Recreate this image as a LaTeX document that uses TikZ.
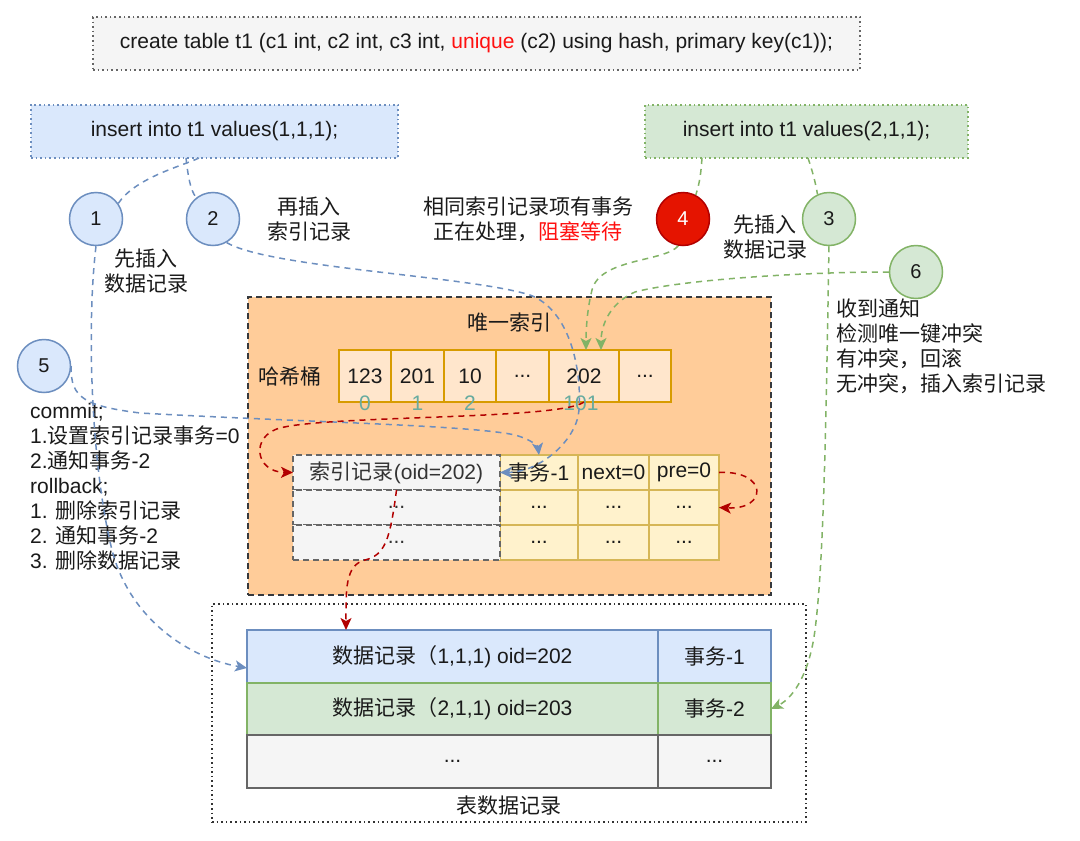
\documentclass[tikz,border=0pt]{standalone}
\usepackage{fontspec}
\setmainfont{Liberation Sans}
\newfontfamily\zhf{Noto Sans CJK SC}
\newcommand\zh[1]{{\zhf #1}}
\usetikzlibrary{arrows.meta}
\definecolor{bfill}{HTML}{DAE8FC}
\definecolor{bline}{HTML}{6C8EBF}
\definecolor{gfill}{HTML}{D5E8D4}
\definecolor{gline}{HTML}{82B366}
\definecolor{rfill}{HTML}{E51400}
\definecolor{rline}{HTML}{B20000}
\definecolor{ofill}{HTML}{FFCC99}
\definecolor{obord}{HTML}{36393D}
\definecolor{hfill}{HTML}{FFE6CC}
\definecolor{hline}{HTML}{D79B00}
\definecolor{tealc}{HTML}{67AB9F}
\definecolor{grfill}{HTML}{F5F5F5}
\definecolor{grline}{HTML}{666666}
\definecolor{yfill}{HTML}{FFF2CC}
\definecolor{yline}{HTML}{D6B656}
\definecolor{txt}{HTML}{1A1A1A}
\definecolor{brightred}{HTML}{FF1010}
\begin{document}
\begin{tikzpicture}[x=1pt,y=-1pt, font=\fontsize{21}{25}\selectfont, text=txt,
  cell/.style={draw, anchor=north west, inner sep=0pt, outer sep=0pt, line width=1.5pt},
  dotbox/.style={dash pattern=on 1.6pt off 3pt, line width=1.5pt},
  circ/.style={circle, draw, minimum size=53pt, inner sep=0pt, line width=1.5pt, font=\fontsize{20}{24}\selectfont},
  bcirc/.style={circ, fill=bfill, draw=bline},
  gcirc/.style={circ, fill=gfill, draw=gline},
  conn/.style={line width=1.5pt, dash pattern=on 6pt off 5pt},
  bconn/.style={conn, draw=bline},
  gconn/.style={conn, draw=gline},
  rconn/.style={conn, draw=rline},
  arr/.style={-{Stealth[length=12pt,width=11pt,inset=3pt]}},
  idxlab/.style={text=tealc, inner sep=0pt},
]
\path[use as bounding box, fill=white] (0,0) rectangle (1080,841);

% top create box
\node[cell, dotbox, draw=grline, fill=grfill, minimum width=767pt, minimum height=53pt] (create) at (93,17)
  {create table t1 (c1 int, c2 int, c3 int, \textcolor{brightred}{unique} (c2) using hash, primary key(c1));};

% insert boxes
\node[cell, dotbox, draw=bline, fill=bfill, minimum width=367pt, minimum height=53pt] (ins1) at (31,105)
  {insert into t1 values(1,1,1);};
\node[cell, dotbox, draw=gline, fill=gfill, minimum width=323pt, minimum height=53pt] (ins2) at (645,105)
  {insert into t1 values(2,1,1);};
\coordinate (i1a) at (199,158);
\coordinate (i1b) at (186,158);
\coordinate (i2a) at (702,158);
\coordinate (i2b) at (808,158);

% circles
\node[bcirc] (c1) at (96,219) {1};
\node[bcirc] (c2) at (213,219) {2};
\node[bcirc] (c5) at (44,366) {5};
\node[circ, fill=rfill, draw=rline, text=white] (c4) at (683,219) {4};
\node[gcirc] (c3) at (829,219) {3};
\node[gcirc] (c6) at (916,272) {6};

% annotations
\node[align=center] (t2) at (309,219) {\zh{再插入}\\\zh{索引记录}};
\node[align=center] (t1) at (146,271) {\zh{先插入}\\\zh{数据记录}};
\node[align=center] (t4) at (528,219) {\zh{相同索引记录项有事务}\\\zh{正在处理，}\textcolor{brightred}{\zh{阻塞等待}}};
\node[align=center] (t3) at (765,237) {\zh{先插入}\\\zh{数据记录}};
\node[align=left, anchor=north west, inner sep=0pt] (t6) at (836,299)
  {\zh{收到通知}\\\zh{检测唯一键冲突}\\\zh{有冲突，回滚}\\\zh{无冲突，插入索引记录}};
\node[align=left, anchor=north west, inner sep=0pt] (t5) at (30,403)
  {commit;\\1.\zh{设置索引记录事务}=0\\2.\zh{通知事务}-2\\rollback;\\1. \zh{删除索引记录}\\2. \zh{通知事务}-2\\3. \zh{删除数据记录}};

% unique index area
\node[cell, draw=obord, fill=ofill, dash pattern=on 6pt off 4pt, minimum width=523pt, minimum height=298pt] (uidx) at (248,297) {};
\node (uidxlab) at (509,323) {\zh{唯一索引}};
\node (hashlab) at (290,377) {\zh{哈希桶}};

\node[cell, draw=hline, fill=hfill, minimum width=52pt, minimum height=52pt] (h1) at (339,350) {123};
\node[cell, draw=hline, fill=hfill, minimum width=53pt, minimum height=52pt] (h2) at (391,350) {201};
\node[cell, draw=hline, fill=hfill, minimum width=52pt, minimum height=52pt] (h3) at (444,350) {10};
\node[cell, draw=hline, fill=hfill, minimum width=53pt, minimum height=52pt] (h4) at (496,350) {...};
\node[cell, draw=hline, fill=hfill, minimum width=70pt, minimum height=52pt] (h5) at (549,350) {202};
\node[cell, draw=hline, fill=hfill, minimum width=52pt, minimum height=52pt] (h6) at (619,350) {...};
\node[idxlab] (l0) at (365,403) {0};
\node[idxlab] (l1) at (417.5,403) {1};
\node[idxlab] (l2) at (470,403) {2};
\node[idxlab] (l101) at (581,403) {101};
\coordinate (h5a) at (586,350);
\coordinate (h5b) at (601,350);

% index record table
\node[cell, draw=yline, fill=yfill, minimum width=78pt, minimum height=35pt] (tx1) at (500,455) {\zh{事务}-1};
\node[cell, draw=yline, fill=yfill, minimum width=71pt, minimum height=35pt] (nx1) at (578,455) {next=0};
\node[cell, draw=yline, fill=yfill, minimum width=70pt, minimum height=35pt] (pr1) at (649,455) {pre=0};
\node[cell, draw=yline, fill=yfill, minimum width=78pt, minimum height=35pt] (tx2) at (500,490) {...};
\node[cell, draw=yline, fill=yfill, minimum width=71pt, minimum height=35pt] (nx2) at (578,490) {...};
\node[cell, draw=yline, fill=yfill, minimum width=70pt, minimum height=35pt] (pr2) at (649,490) {...};
\node[cell, draw=yline, fill=yfill, minimum width=78pt, minimum height=35pt] (tx3) at (500,525) {...};
\node[cell, draw=yline, fill=yfill, minimum width=71pt, minimum height=35pt] (nx3) at (578,525) {...};
\node[cell, draw=yline, fill=yfill, minimum width=70pt, minimum height=35pt] (pr3) at (649,525) {...};
\node[cell, draw=grline, fill=grfill, dash pattern=on 6pt off 4pt, text=black!80, minimum width=207pt, minimum height=35pt] (ir1) at (293,455) {\zh{索引记录}(oid=202)};
\node[cell, draw=grline, fill=grfill, dash pattern=on 6pt off 4pt, text=black!80, minimum width=207pt, minimum height=35pt] (ir2) at (293,490) {...};
\node[cell, draw=grline, fill=grfill, dash pattern=on 6pt off 4pt, text=black!80, minimum width=207pt, minimum height=35pt] (ir3) at (293,525) {...};

% table data records
\node[cell, dotbox, draw=black!80, minimum width=594pt, minimum height=218pt] (tbl) at (212,604) {};
\node (tbllab) at (509,806) {\zh{表数据记录}};
\node[cell, draw=bline, fill=bfill, minimum width=411pt, minimum height=53pt] (d1) at (247,630) {\zh{数据记录（}1,1,1) oid=202};
\node[cell, draw=bline, fill=bfill, minimum width=113pt, minimum height=53pt] (d1b) at (658,630) {\zh{事务}-1};
\node[cell, draw=gline, fill=gfill, minimum width=411pt, minimum height=52pt] (d2) at (247,683) {\zh{数据记录（}2,1,1) oid=203};
\node[cell, draw=gline, fill=gfill, minimum width=113pt, minimum height=52pt] (d2b) at (658,683) {\zh{事务}-2};
\node[cell, draw=grline, fill=grfill, minimum width=411pt, minimum height=53pt] (d3) at (247,735) {...};
\node[cell, draw=grline, fill=grfill, minimum width=113pt, minimum height=53pt] (d3b) at (658,735) {...};
\coordinate (d1w) at (247,668);
\coordinate (d1in) at (346,630);

% connectors
\draw[bconn] (i1a) .. controls (182,166) and (135,178) .. (c1.35);
\draw[bconn] (i1b) .. controls (188,175) and (190,190) .. (c2.128);
\draw[bconn, arr] (c1.south) .. controls (86,330) and (92,470) .. (112,550) .. controls (130,620) and (190,658) .. (d1w);
\draw[bconn, arr] (c2.-60) .. controls (270,268) and (470,276) .. (530,295) .. controls (570,310) and (582,370) .. (579,410) .. controls (577,440) and (540,472) .. (ir1.east);
\draw[bconn, arr] (c5.east) .. controls (70,398) and (85,406) .. (140,413) .. controls (300,422) and (470,425) .. (515,435) .. controls (533,440) and (538,447) .. (tx1.north);

\draw[rconn, arr] (h5.south) .. controls (560,420) and (330,415) .. (280,428) .. controls (250,436) and (255,472) .. (ir1.west);
\draw[rconn, arr] (ir1.south) .. controls (390,540) and (385,555) .. (365,560) .. controls (345,565) and (346,590) .. (d1in);
\draw[rconn, arr] (pr1.east) .. controls (768,470) and (768,510) .. (pr2.east);

\draw[gconn] (i2a) .. controls (701,172) and (700,182) .. (c4.62);
\draw[gconn] (i2b) .. controls (812,170) and (815,180) .. (c3.115);
\draw[gconn, arr] (c4.-100) .. controls (665,262) and (600,258) .. (592,290) .. controls (587,310) and (586,330) .. (h5a);
\draw[gconn, arr] (c6.west) .. controls (800,272) and (680,280) .. (635,292) .. controls (606,305) and (601,330) .. (h5b);
\draw[gconn, arr] (c3.south) .. controls (826,420) and (824,560) .. (815,630) .. controls (810,670) and (795,697) .. (d2b.east);
\end{tikzpicture}
\end{document}
